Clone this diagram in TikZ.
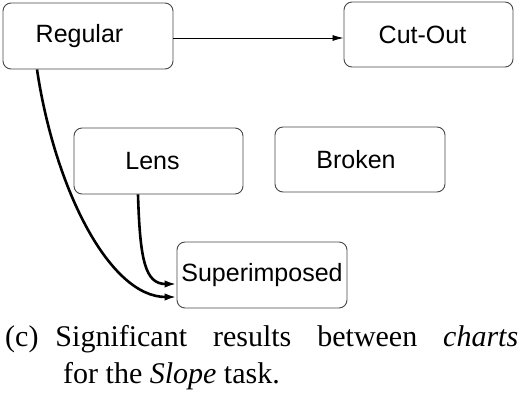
\documentclass[tikz,border=0pt]{standalone}
\usepackage{fontspec}
\setmainfont{Liberation Serif}
\newfontfamily\boxfont{Liberation Sans}
\usetikzlibrary{arrows.meta}
\begin{document}
\begin{tikzpicture}[x=1pt,y=1pt,
  chartbox/.style={draw=black!72, line width=0.9pt, rounded corners=8pt,
    minimum width=170pt, minimum height=66pt, inner sep=0pt,
    font=\boxfont\fontsize{25}{28}\selectfont},
  thin arrow/.style={-{Latex[length=11pt,width=6pt]}, line width=0.8pt},
  thick arrow/.style={-{Latex[length=12pt,width=7.5pt]}, line width=2.6pt}]
\useasboundingbox (0,0) rectangle (525,410);
\node[chartbox] (regular) at (88,374) {Regular\kern17pt};
\node[chartbox, minimum width=169pt, minimum height=65pt] (cutout) at (428.5,375.5) {Cut-Out\kern12pt};
\node[chartbox, minimum width=169pt] (lens) at (158.5,249) {Lens\kern12pt};
\node[chartbox, minimum height=65pt] (broken) at (360,250.5) {Broken\kern8pt};
\node[chartbox] (super) at (262,135) {Superimposed};
\draw[thin arrow] (regular.east |- 0,372) -- (cutout.west |- 0,372);
\draw[thick arrow] ([xshift=-51pt]regular.south)
  .. controls (55,220) and (110,113) .. ([yshift=-22pt]super.west);
\draw[thick arrow] ([xshift=-20.5pt]lens.south)
  .. controls (140,150) and (145,126) .. ([yshift=-9pt]super.west);
\node[anchor=base west, inner sep=0pt] (caption) at (5,63.5)
  {\parbox[t]{513pt}{\fontsize{30}{37}\selectfont\hangindent=58pt\hangafter=1\noindent
  (c)\hspace{17pt}Significant results between \textit{charts}\linebreak
  for the \textit{Slope} task.}};
\end{tikzpicture}
\end{document}
